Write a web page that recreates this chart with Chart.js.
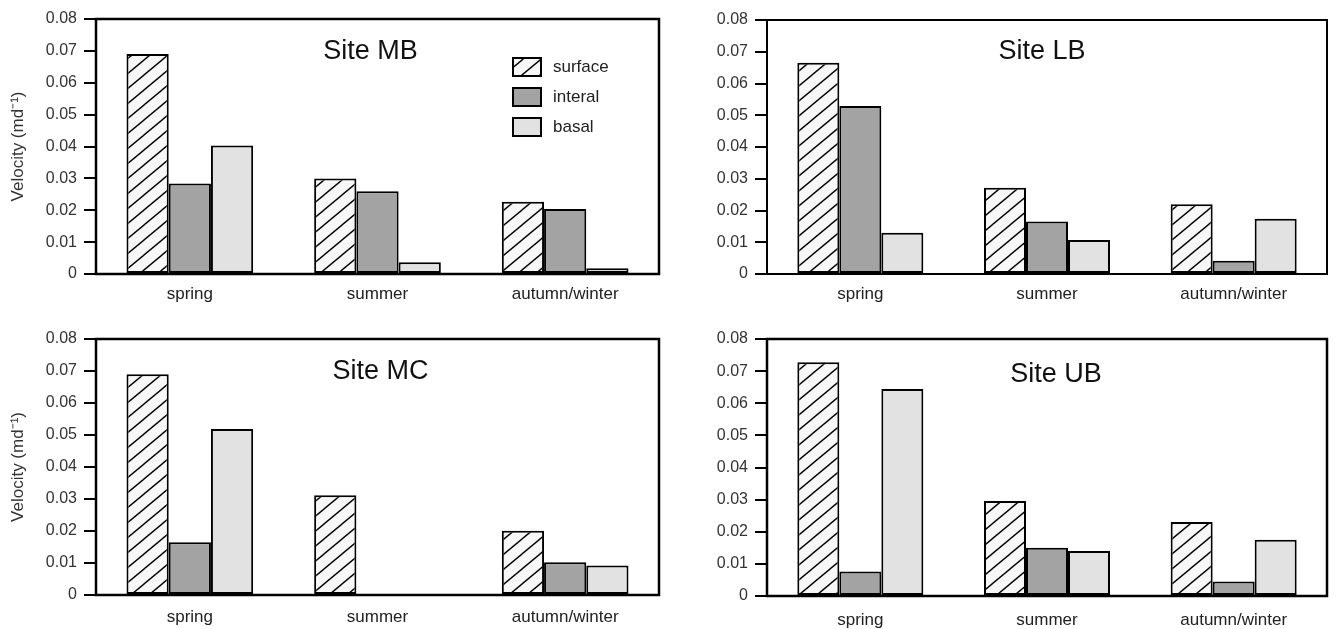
<!DOCTYPE html>
<html><head><meta charset="utf-8">
<script src="https://cdn.jsdelivr.net/npm/chart.js@4/dist/chart.umd.min.js"></script>
<style>
html,body{margin:0;padding:0;background:#fff;width:1336px;height:629px;overflow:hidden;}
canvas{position:absolute;}
</style></head>
<body>
<canvas id="c0" width="668" height="314" style="left:0;top:0"></canvas>
<canvas id="c1" width="668" height="314" style="left:668px;top:0"></canvas>
<canvas id="c2" width="668" height="315" style="left:0;top:314px"></canvas>
<canvas id="c3" width="668" height="315" style="left:668px;top:314px"></canvas>
<script>
// ---- data ----
const categories = ['spring', 'summer', 'autumn/winter'];
const seriesNames = ['surface', 'interal', 'basal'];
const sites = ['Site MB', 'Site LB', 'Site MC', 'Site UB'];
const yTicks = [0, 0.01, 0.02, 0.03, 0.04, 0.05, 0.06, 0.07, 0.08];
const yTickLabels = ['0', '0.01', '0.02', '0.03', '0.04', '0.05', '0.06', '0.07', '0.08'];
const yTitle = 'Velocity (md\u207B\u00B9)';

const mbSurface = [0.069, 0.030, 0.0227];
const mbInteral = [0.0284, 0.026, 0.0204];
const mbBasal = [0.0403, 0.0037, 0.0018];

const lbSurface = [0.0665, 0.0272, 0.022];
const lbInteral = [0.0529, 0.0165, 0.0042];
const lbBasal = [0.013, 0.0107, 0.0174];

const mcSurface = [0.069, 0.0312, 0.0201];
const mcInteral = [0.0165, 0, 0.0102];
const mcBasal = [0.0519, 0, 0.0092];

const ubSurface = [0.0728, 0.0296, 0.023];
const ubInteral = [0.0076, 0.015, 0.0045];
const ubBasal = [0.0644, 0.014, 0.0175];

const siteSeries = [
  [mbSurface, mbInteral, mbBasal],
  [lbSurface, lbInteral, lbBasal],
  [mcSurface, mcInteral, mcBasal],
  [ubSurface, ubInteral, ubBasal]
];

// ---- styles ----
const FONT = "'Liberation Sans', Arial, Helvetica, sans-serif";
Chart.defaults.font.family = FONT;

function makeHatch() {
  const w = 18, h = 15;
  const c = document.createElement('canvas');
  c.width = w; c.height = h;
  const g = c.getContext('2d');
  g.fillStyle = '#f7f7f7';
  g.fillRect(0, 0, w, h);
  g.strokeStyle = '#000';
  g.lineWidth = 1.4;
  for (let k = -1; k <= 1; k++) {
    g.beginPath();
    g.moveTo(-w, 2 * h + k * h);
    g.lineTo(2 * w, -h + k * h);
    g.stroke();
  }
  return g.createPattern(c, 'repeat');
}
const hatch = makeHatch();
const fills = [hatch, '#a3a3a3', '#e2e2e2'];

const layouts = [
  { id: 'c0', yWidth: 96, xHeight: 40, pad: { top: 19, right: 9, left: 0, bottom: 0 }, xPad: 10, showYTitle: true, tdx: -7, tdy: 33, legend: true, frame: 2.5 },
  { id: 'c1', yWidth: 99, xHeight: 40, pad: { top: 20, right: 9, left: 0, bottom: 0 }, xPad: 10, showYTitle: false, tdx: -5, tdy: 32, legend: false, frame: 2 },
  { id: 'c2', yWidth: 96, xHeight: 34, pad: { top: 25, right: 9, left: 0, bottom: 0 }, xPad: 12, showYTitle: true, tdx: 3, tdy: 33, legend: false, frame: 2.5 },
  { id: 'c3', yWidth: 99, xHeight: 33, pad: { top: 25, right: 9, left: 0, bottom: 0 }, xPad: 14, showYTitle: false, tdx: 9, tdy: 36, legend: false, frame: 2.5 }
];

const framePlugin = {
  id: 'frame',
  afterDatasetsDraw(chart, args, opts) {
    const a = chart.chartArea, ctx = chart.ctx;
    ctx.save();
    ctx.strokeStyle = '#000';
    ctx.lineWidth = opts.width;
    ctx.strokeRect(a.left, a.top, a.right - a.left, a.bottom - a.top);
    ctx.restore();
  }
};

const siteTitlePlugin = {
  id: 'siteTitle',
  afterDraw(chart, args, opts) {
    const a = chart.chartArea, ctx = chart.ctx;
    ctx.save();
    ctx.font = '27px ' + FONT;
    ctx.fillStyle = '#111';
    ctx.textAlign = 'center';
    ctx.textBaseline = 'middle';
    ctx.fillText(opts.text, (a.left + a.right) / 2 + opts.dx, a.top + opts.dy);
    ctx.restore();
  }
};

const boxLegendPlugin = {
  id: 'boxLegend',
  afterDraw(chart, args, opts) {
    if (!opts.show) return;
    const a = chart.chartArea, ctx = chart.ctx;
    const x0 = a.right - 146, y0 = a.top + 48;
    ctx.save();
    chart.data.datasets.forEach((ds, i) => {
      const cy = y0 + i * 30;
      ctx.fillStyle = ds.backgroundColor;
      ctx.fillRect(x0, cy - 9, 28, 18);
      ctx.strokeStyle = '#000';
      ctx.lineWidth = 2;
      ctx.strokeRect(x0, cy - 9, 28, 18);
      ctx.fillStyle = '#222';
      ctx.font = '17px ' + FONT;
      ctx.textAlign = 'left';
      ctx.textBaseline = 'middle';
      ctx.fillText(ds.label, x0 + 40, cy);
    });
    ctx.restore();
  }
};

layouts.forEach((L, si) => {
  const datasets = seriesNames.map((name, k) => ({
    label: name,
    data: siteSeries[si][k],
    backgroundColor: fills[k],
    borderColor: '#000',
    borderWidth: 2,
    borderSkipped: false,
    categoryPercentage: 0.675,
    barPercentage: 1.0
  }));
  new Chart(document.getElementById(L.id), {
    type: 'bar',
    data: { labels: categories, datasets },
    plugins: [framePlugin, siteTitlePlugin, boxLegendPlugin],
    options: {
      responsive: false,
      animation: false,
      layout: { padding: L.pad },
      plugins: {
        legend: { display: false },
        tooltip: { enabled: false },
        frame: { width: L.frame },
        siteTitle: { text: sites[si], dx: L.tdx, dy: L.tdy },
        boxLegend: { show: L.legend }
      },
      scales: {
        x: {
          grid: { display: false, drawTicks: false },
          border: { display: true, color: '#000', width: 2 },
          ticks: { color: '#222', font: { size: 17 }, padding: L.xPad, maxRotation: 0 },
          afterFit(s) { s.height = L.xHeight; }
        },
        y: {
          min: 0, max: 0.08,
          afterBuildTicks(s) { s.ticks = yTicks.map(v => ({ value: v })); },
          ticks: {
            color: '#333', font: { size: 16 }, padding: 7,
            callback(v) { const i = yTicks.indexOf(v); return i >= 0 ? yTickLabels[i] : ''; }
          },
          grid: { display: true, drawOnChartArea: false, drawTicks: true, tickLength: 12, tickWidth: 2, tickColor: '#000', color: '#000', lineWidth: 2 },
          border: { display: true, color: '#000', width: 2 },
          title: { display: L.showYTitle, text: yTitle, color: '#333', font: { size: 17 }, padding: { top: 8, bottom: 0 } },
          afterFit(s) { s.width = L.yWidth; }
        }
      }
    }
  });
});
</script>
</body></html>
